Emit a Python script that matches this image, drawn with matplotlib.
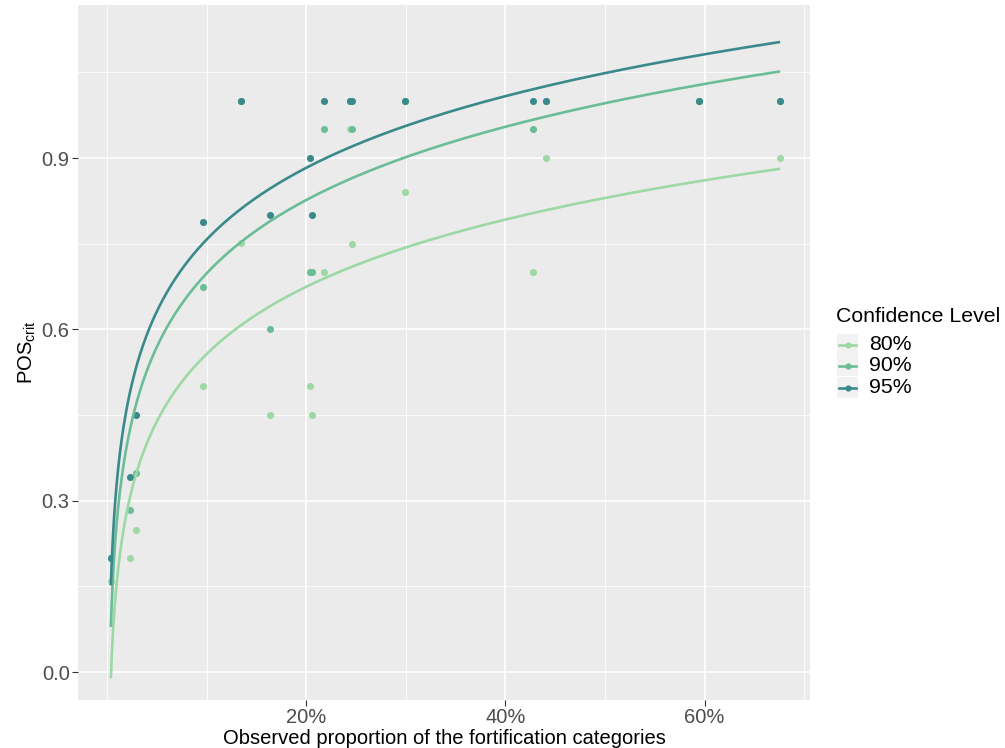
import numpy as np
import matplotlib
matplotlib.use("Agg")
import matplotlib.pyplot as plt
from matplotlib.lines import Line2D
from matplotlib.patches import Rectangle

plt.rcParams['font.family'] = ['Liberation Sans', 'DejaVu Sans']
plt.rcParams['mathtext.fontset'] = 'custom'
plt.rcParams['mathtext.rm'] = 'Liberation Sans'
plt.rcParams['mathtext.it'] = 'Liberation Sans'

# ---- data (observed proportion in %, POS_crit per confidence level) ----
x_pct = [0.35, 2.26, 2.89, 9.6, 13.4, 16.3, 20.4, 20.6, 21.8, 24.4, 24.6, 29.9, 42.8, 44.1, 59.4, 67.6]
pos_80 = [0.16, 0.20, 0.249, 0.50, 0.751, 0.45, 0.50, 0.45, 0.70, 0.95, 0.75, 0.84, 0.70, 0.90, 1.00, 0.90]
pos_90 = [0.20, 0.284, 0.349, 0.675, 1.00, 0.60, 0.70, 0.70, 0.95, 1.00, 0.95, 1.00, 0.95, 1.00, 1.00, 1.00]
pos_95 = [0.20, 0.342, 0.45, 0.788, 1.00, 0.80, 0.90, 0.80, 1.00, 1.00, 1.00, 1.00, 1.00, 1.00, 1.00, 1.00]
levels = ['80%', '90%', '95%']
colors = ['#9cd9a4', '#6bbd98', '#3a8a8b']

W, H = 1005, 748
fig = plt.figure(figsize=(W / 100, H / 100), dpi=100)
ax = fig.add_axes([78 / W, 1 - 700 / H, (810 - 78) / W, (700 - 5) / H])
ax.set_facecolor('#ebebeb')

x = np.array(x_pct) / 100.0
series = [pos_80, pos_90, pos_95]

for ys, c in zip(series, colors):
    ax.scatter(x, ys, s=26, color=c, zorder=3, linewidths=0)
for ys, c in zip(series, colors):
    b, a = np.polyfit(np.log(x), np.array(ys), 1)
    xs = np.geomspace(x.min(), x.max(), 300)
    ax.plot(xs, a + b * np.log(xs), color=c, lw=1.9, zorder=4, solid_capstyle='butt')

ax.set_xlim(-0.0295, 0.706)
ax.set_ylim(-0.049, 1.168)

# grid
for v in [0.0, 0.10, 0.30, 0.50, 0.70]:
    ax.axvline(v, color='white', lw=0.6, zorder=0)
for v in [0.20, 0.40, 0.60]:
    ax.axvline(v, color='white', lw=1.2, zorder=0)
for v in [0.15, 0.45, 0.75, 1.05]:
    ax.axhline(v, color='white', lw=0.6, zorder=0)
for v in [0.0, 0.3, 0.6, 0.9]:
    ax.axhline(v, color='white', lw=1.2, zorder=0)

ax.set_xticks([0.2, 0.4, 0.6])
ax.set_xticklabels(['20%', '40%', '60%'])
ax.set_yticks([0.0, 0.3, 0.6, 0.9])
ax.set_yticklabels(['0.0', '0.3', '0.6', '0.9'])
ax.tick_params(axis='both', length=4, width=0.8, color='#333333',
               labelcolor='#4d4d4d', labelsize=14.5, pad=2)
for s in ax.spines.values():
    s.set_visible(False)

ax.set_xlabel('Observed proportion of the fortification categories', fontsize=14.5,
              color='black', labelpad=1)
ax.set_ylabel(r'POS$_{\mathrm{crit}}$', fontsize=14.5, color='black', labelpad=3)

# legend (drawn manually, ggplot style)
fig.text(836 / W, 1 - 316 / H, 'Confidence Level', fontsize=15.3, va='center', ha='left')
for i, (lab, c) in enumerate(zip(levels, colors)):
    y0 = 334 + i * 21.5
    fig.patches.append(Rectangle((837 / W, 1 - (y0 + 21) / H), 21 / W, 21 / H,
                                 transform=fig.transFigure, facecolor='#f2f2f2',
                                 edgecolor='none'))
    yc = 1 - (y0 + 10.5) / H
    fig.lines.append(Line2D([839 / W, 856 / W], [yc, yc], transform=fig.transFigure,
                            color=c, lw=1.9))
    fig.lines.append(Line2D([847.5 / W], [yc], transform=fig.transFigure, color=c,
                            marker='o', markersize=4.5, markeredgewidth=0))
    fig.text(869 / W, yc, lab, fontsize=15.3, va='center', ha='left')

fig.savefig('out.png', dpi=100)
